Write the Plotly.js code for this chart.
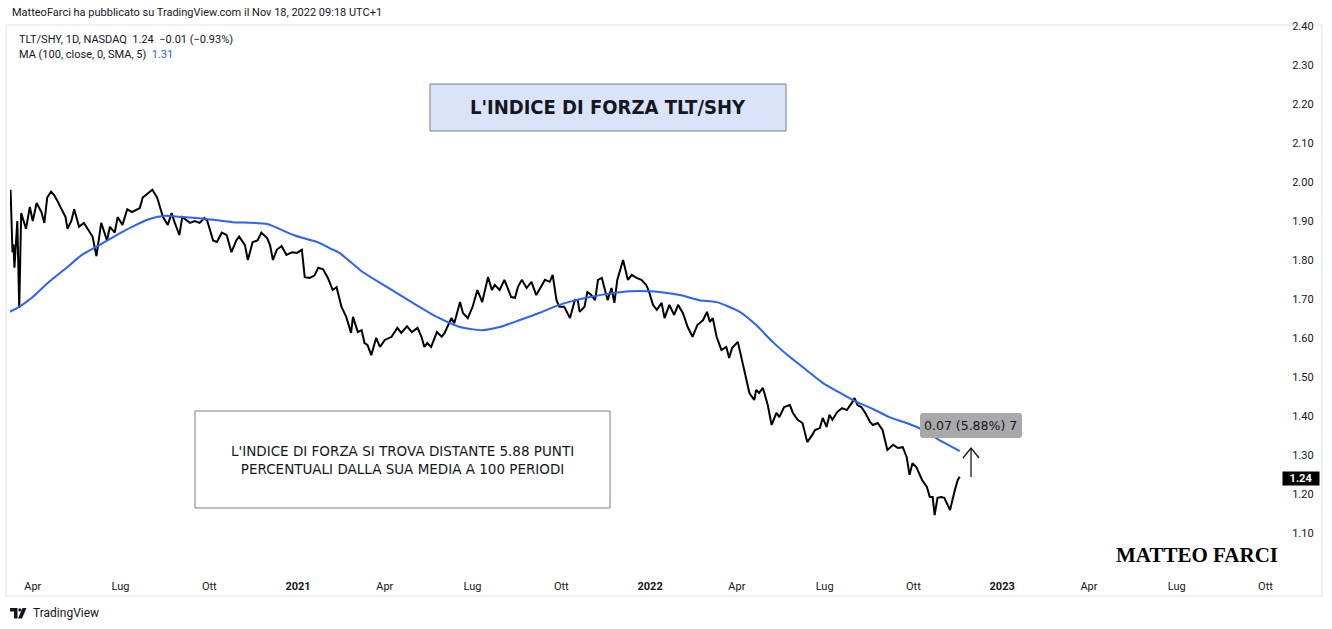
<!DOCTYPE html>
<html><head><meta charset="utf-8">
<script src="https://cdn.plot.ly/plotly-3.0.1.min.js"></script>
<style>html,body{margin:0;padding:0;background:#fff;}#chart{width:1332px;height:629px;}</style>
</head><body><div id="chart"></div>
<script>
const dates = ['2020-03-09','2020-03-11','2020-03-12','2020-03-13','2020-03-16','2020-03-18','2020-03-20','2020-03-25','2020-03-29','2020-04-01',
'2020-04-05','2020-04-10','2020-04-13','2020-04-16','2020-04-20','2020-04-23','2020-04-26','2020-05-01','2020-05-05','2020-05-07',
'2020-05-11','2020-05-14','2020-05-19','2020-05-24','2020-05-30','2020-06-02','2020-06-06','2020-06-11','2020-06-17','2020-06-20',
'2020-06-25','2020-06-28','2020-07-03','2020-07-08','2020-07-13','2020-07-21','2020-07-24','2020-07-29','2020-08-03','2020-08-08',
'2020-08-14','2020-08-19','2020-08-23','2020-08-26','2020-08-31','2020-09-03','2020-09-11','2020-09-16','2020-09-21','2020-09-26',
'2020-09-29','2020-10-05','2020-10-09','2020-10-14','2020-10-19','2020-10-24','2020-10-29','2020-11-01','2020-11-07','2020-11-10',
'2020-11-15','2020-11-20','2020-11-24','2020-11-30','2020-12-03','2020-12-06','2020-12-10','2020-12-15','2020-12-20','2020-12-26',
'2020-12-31','2021-01-05','2021-01-08','2021-01-13','2021-01-18','2021-01-22','2021-01-27','2021-02-01','2021-02-06','2021-02-10',
'2021-02-15','2021-02-20','2021-02-25','2021-02-27','2021-03-04','2021-03-08','2021-03-11','2021-03-14','2021-03-18','2021-03-23',
'2021-03-27','2021-04-01','2021-04-08','2021-04-14','2021-04-18','2021-04-24','2021-04-29','2021-05-05','2021-05-09','2021-05-12',
'2021-05-15','2021-05-19','2021-05-25','2021-05-30','2021-06-02','2021-06-09','2021-06-12','2021-06-18','2021-06-21','2021-06-26',
'2021-07-01','2021-07-06','2021-07-11','2021-07-17','2021-07-21','2021-07-24','2021-07-29','2021-08-03','2021-08-06','2021-08-10',
'2021-08-14','2021-08-17','2021-08-21','2021-08-26','2021-08-31','2021-09-05','2021-09-11','2021-09-14','2021-09-19','2021-09-22',
'2021-09-26','2021-09-29','2021-10-04','2021-10-10','2021-10-15','2021-10-18','2021-10-20','2021-10-25','2021-10-28','2021-11-01',
'2021-11-05','2021-11-08','2021-11-12','2021-11-15','2021-11-18','2021-11-22','2021-11-25','2021-11-28','2021-12-04','2021-12-09',
'2021-12-13','2021-12-18','2021-12-23','2021-12-28','2021-12-31','2022-01-04','2022-01-08','2022-01-13','2022-01-16','2022-01-21',
'2022-01-26','2022-01-30','2022-02-04','2022-02-09','2022-02-14','2022-02-19','2022-02-25','2022-03-01','2022-03-04','2022-03-07',
'2022-03-11','2022-03-16','2022-03-21','2022-03-24','2022-03-27','2022-04-02','2022-04-06','2022-04-11','2022-04-14','2022-04-19',
'2022-04-21','2022-04-24','2022-04-28','2022-05-03','2022-05-07','2022-05-12','2022-05-15','2022-05-20','2022-05-26','2022-05-29',
'2022-06-03','2022-06-08','2022-06-13','2022-06-18','2022-06-21','2022-06-26','2022-06-29','2022-07-03','2022-07-06','2022-07-09',
'2022-07-14','2022-07-19','2022-07-24','2022-07-29','2022-08-01','2022-08-04','2022-08-08','2022-08-12','2022-08-17','2022-08-20',
'2022-08-25','2022-08-30','2022-09-04','2022-09-10','2022-09-15','2022-09-20','2022-09-24','2022-09-27','2022-09-30','2022-10-04',
'2022-10-10','2022-10-15','2022-10-18','2022-10-21','2022-10-23','2022-10-26','2022-10-30','2022-11-02','2022-11-08','2022-11-13',
'2022-11-16','2022-11-18'];
const ratio = [1.980,1.820,1.840,1.780,1.900,1.677,1.920,1.880,1.936,1.900,
1.946,1.923,1.895,1.960,1.975,1.967,1.954,1.930,1.910,1.880,
1.900,1.930,1.885,1.895,1.870,1.860,1.810,1.895,1.850,1.885,
1.870,1.910,1.890,1.930,1.923,1.933,1.960,1.970,1.980,1.960,
1.910,1.890,1.920,1.897,1.864,1.910,1.895,1.900,1.895,1.908,
1.900,1.850,1.846,1.870,1.864,1.820,1.850,1.860,1.838,1.800,
1.846,1.850,1.870,1.856,1.838,1.800,1.826,1.836,1.813,1.820,
1.818,1.826,1.756,1.754,1.760,1.780,1.776,1.754,1.723,1.730,
1.680,1.654,1.613,1.654,1.615,1.620,1.587,1.582,1.556,1.600,
1.577,1.595,1.603,1.626,1.613,1.630,1.615,1.626,1.603,1.577,
1.587,1.577,1.615,1.603,1.613,1.651,1.638,1.692,1.664,1.651,
1.680,1.723,1.692,1.756,1.723,1.736,1.723,1.749,1.731,1.705,
1.703,1.731,1.749,1.728,1.744,1.710,1.736,1.749,1.744,1.762,
1.697,1.680,1.680,1.651,1.697,1.697,1.667,1.680,1.718,1.710,
1.697,1.749,1.754,1.728,1.697,1.728,1.690,1.749,1.800,1.749,
1.762,1.754,1.749,1.736,1.718,1.685,1.672,1.690,1.651,1.685,
1.659,1.685,1.664,1.628,1.603,1.633,1.646,1.667,1.641,1.651,
1.603,1.569,1.577,1.549,1.574,1.590,1.544,1.487,1.459,1.441,
1.467,1.459,1.472,1.428,1.377,1.408,1.397,1.423,1.428,1.408,
1.390,1.382,1.333,1.351,1.364,1.369,1.395,1.372,1.403,1.390,
1.410,1.420,1.415,1.433,1.446,1.428,1.423,1.408,1.385,1.377,
1.382,1.364,1.313,1.326,1.318,1.320,1.295,1.249,1.279,1.269,
1.236,1.218,1.192,1.192,1.146,1.190,1.192,1.190,1.159,1.210,
1.236,1.244];
// MA (100, close, SMA)
const maDates = ['2020-03-08','2020-03-18','2020-04-01','2020-04-18','2020-05-06','2020-05-22','2020-06-09','2020-06-27','2020-07-13','2020-07-31',
'2020-08-14','2020-09-03','2020-09-28','2020-10-25','2020-11-30','2020-12-27','2021-01-23','2021-02-03','2021-02-13','2021-03-09',
'2021-04-03','2021-04-30','2021-05-25','2021-06-18','2021-07-11','2021-07-29','2021-08-19','2021-09-08','2021-09-29','2021-10-27',
'2021-11-23','2021-12-11','2021-12-31','2022-01-11','2022-02-01','2022-02-21','2022-03-11','2022-04-04','2022-04-21','2022-05-08',
'2022-05-26','2022-06-12','2022-06-29','2022-07-17','2022-08-03','2022-08-20','2022-09-06','2022-09-24','2022-10-11','2022-10-28',
'2022-11-18'];
const maValues = [1.667,1.680,1.705,1.744,1.780,1.813,1.838,1.864,1.885,1.905,
1.913,1.910,1.905,1.897,1.892,1.864,1.844,1.830,1.818,1.769,
1.731,1.690,1.654,1.628,1.620,1.628,1.646,1.664,1.685,1.703,
1.715,1.720,1.720,1.718,1.710,1.697,1.692,1.667,1.633,1.590,
1.551,1.518,1.485,1.459,1.436,1.418,1.397,1.382,1.364,1.338,
1.310];
const xTickVals = ['2020-04-01','2020-07-01','2020-10-01','2021-01-01','2021-04-01','2021-07-01','2021-10-01','2022-01-01',
'2022-04-01','2022-07-01','2022-10-01','2023-01-01','2023-04-01','2023-07-01','2023-10-01'];
const xTickText = ['Apr','Lug','Ott','<b>2021</b>','Apr','Lug','Ott','<b>2022</b>','Apr','Lug','Ott','<b>2023</b>','Apr','Lug','Ott'];
const yTickVals = [1.10,1.20,1.30,1.40,1.50,1.60,1.70,1.80,1.90,2.00,2.10,2.20,2.30,2.40];
const lastClose = 1.24;
const lastMA = 1.31;
const header = 'MatteoFarci ha pubblicato su TradingView.com il Nov 18, 2022 09:18 UTC+1';
const legend1 = 'TLT/SHY, 1D, NASDAQ\u00a0\u00a01.24\u00a0\u00a0\u22120.01 (\u22120.93%)';
const legend2 = 'MA (100, close, 0, SMA, 5)\u00a0\u00a0<span style="color:#2962ff">1.31</span>';
const titleText = "L'INDICE DI FORZA TLT/SHY";
const noteText = "L'INDICE DI FORZA SI TROVA DISTANTE 5.88 PUNTI<br>PERCENTUALI DALLA SUA MEDIA A 100 PERIODI";
const measureText = '0.07 (5.88%) 7';

// pixel -> paper helpers (layout only)
const L = 10, T = 24, W = 1268, H = 548;
const px = x => (x - L) / W;
const py = y => (T + H - y) / H;
const FONT = 'Roboto, "Open Sans", sans-serif';
const TXT = '#131722';

function rrect(x0, y0, x1, y1, r) {
  const P = (x, y) => px(x) + ',' + py(y);
  return 'M' + P(x0 + r, y0) + ' L' + P(x1 - r, y0) + ' Q' + P(x1, y0) + ' ' + P(x1, y0 + r) +
    ' L' + P(x1, y1 - r) + ' Q' + P(x1, y1) + ' ' + P(x1 - r, y1) + ' L' + P(x0 + r, y1) +
    ' Q' + P(x0, y1) + ' ' + P(x0, y1 - r) + ' L' + P(x0, y0 + r) + ' Q' + P(x0, y0) + ' ' + P(x0 + r, y0) + ' Z';
}
function poly(pts, close) {
  return pts.map((p, i) => (i ? 'L' : 'M') + px(p[0]) + ',' + py(p[1])).join(' ') + (close ? ' Z' : '');
}

const traces = [
  {x: dates, y: ratio, type: 'scatter', mode: 'lines', line: {color: '#000000', width: 2}, hoverinfo: 'skip'},
  {x: maDates, y: maValues, type: 'scatter', mode: 'lines', line: {color: '#2962ff', width: 2, shape: 'spline', smoothing: 0.6}, hoverinfo: 'skip'}
];

const shapes = [
  {type: 'rect', xref: 'paper', yref: 'paper', x0: px(6), x1: px(1322), y0: py(596), y1: py(25), line: {color: '#e0e3eb', width: 1}, layer: 'below'},
  {type: 'rect', xref: 'paper', yref: 'paper', x0: px(430), x1: px(786), y0: py(131), y1: py(84), fillcolor: '#dbe3fb', line: {color: '#7b7e88', width: 1}},
  {type: 'rect', xref: 'paper', yref: 'paper', x0: px(195), x1: px(610), y0: py(508), y1: py(411), fillcolor: '#ffffff', line: {color: '#7b7e88', width: 1}},
  {type: 'path', xref: 'paper', yref: 'paper', path: rrect(920, 413, 1022, 438, 3), fillcolor: '#a9a9a9', line: {width: 0}},
  {type: 'path', xref: 'paper', yref: 'paper', path: poly([[971, 448], [971, 477]]), line: {color: '#131722', width: 1.3}},
  {type: 'path', xref: 'paper', yref: 'paper', path: poly([[963, 458], [971, 448], [979, 458]]), line: {color: '#131722', width: 1.3}},
  // TradingView logo
  {type: 'path', xref: 'paper', yref: 'paper', path: poly([[10, 608], [17.5, 608], [17.5, 618.5], [14, 618.5], [14, 611.5], [10, 611.5]], true), fillcolor: '#131722', line: {width: 0}},
  {type: 'circle', xref: 'paper', yref: 'paper', x0: px(18.3), x1: px(21.5), y0: py(611.5), y1: py(608.3), fillcolor: '#131722', line: {width: 0}},
  {type: 'path', xref: 'paper', yref: 'paper', path: poly([[22.5, 608], [26.5, 608], [22, 618.5], [18, 618.5]], true), fillcolor: '#131722', line: {width: 0}}
];

const annotations = [
  {xref: 'paper', yref: 'paper', x: px(10), y: py(13), xanchor: 'left', yanchor: 'middle', showarrow: false, text: header, font: {family: FONT, size: 11, color: TXT}},
  {xref: 'paper', yref: 'paper', x: px(17), y: py(39), xanchor: 'left', yanchor: 'middle', showarrow: false, text: legend1, font: {family: FONT, size: 11, color: TXT}},
  {xref: 'paper', yref: 'paper', x: px(17), y: py(55), xanchor: 'left', yanchor: 'middle', showarrow: false, text: legend2, font: {family: FONT, size: 11, color: TXT}},
  {xref: 'paper', yref: 'paper', x: px(608), y: py(107), xanchor: 'center', yanchor: 'middle', showarrow: false, text: '<b>' + titleText + '</b>', font: {family: '"DejaVu Sans Condensed", "DejaVu Sans"', size: 20, color: TXT}},
  {xref: 'paper', yref: 'paper', x: px(402), y: py(460), xanchor: 'center', yanchor: 'middle', showarrow: false, text: noteText, font: {family: 'DejaVu Sans', size: 13.5, color: TXT}},
  {xref: 'paper', yref: 'paper', x: px(971), y: py(426), xanchor: 'center', yanchor: 'middle', showarrow: false, text: measureText, font: {family: 'DejaVu Sans', size: 12.5, color: TXT}},
  {xref: 'paper', yref: 'y', x: px(1301), y: lastClose, xanchor: 'center', yanchor: 'middle', showarrow: false, text: '<b>' + lastClose.toFixed(2) + '</b>', bgcolor: '#000000', width: 36, height: 13, borderpad: 0, font: {family: FONT, size: 11, color: '#ffffff'}},
  {xref: 'paper', yref: 'paper', x: px(1197), y: py(555), xanchor: 'center', yanchor: 'middle', showarrow: false, text: '<b>MATTEO FARCI</b>', font: {family: 'Liberation Serif', size: 21, color: '#000000'}},
  {xref: 'paper', yref: 'paper', x: px(31), y: py(613), xanchor: 'left', yanchor: 'middle', showarrow: false, text: 'TradingView', font: {family: FONT, size: 12, color: TXT}}
];

const layout = {
  width: 1332, height: 629,
  margin: {l: L, r: 1332 - L - W, t: T, b: 629 - T - H, pad: 0},
  paper_bgcolor: '#ffffff', plot_bgcolor: '#ffffff',
  showlegend: false,
  font: {family: FONT, size: 11, color: TXT},
  xaxis: {type: 'date', range: ['2020-03-08 10:00', '2023-10-14'], tickmode: 'array', tickvals: xTickVals, ticktext: xTickText,
    showgrid: false, zeroline: false, showline: false, ticks: 'outside', ticklen: 4, tickcolor: 'rgba(0,0,0,0)',
    tickfont: {family: FONT, size: 11, color: TXT}},
  yaxis: {side: 'right', range: [1.0, 2.405], tickmode: 'array', tickvals: yTickVals, tickformat: '.2f',
    showgrid: false, zeroline: false, showline: false, ticks: 'outside', ticklen: 11, tickcolor: 'rgba(0,0,0,0)',
    tickfont: {family: FONT, size: 11, color: TXT}},
  shapes: shapes,
  annotations: annotations
};

Plotly.newPlot('chart', traces, layout, {displayModeBar: false, staticPlot: true});
</script>
</body></html>
